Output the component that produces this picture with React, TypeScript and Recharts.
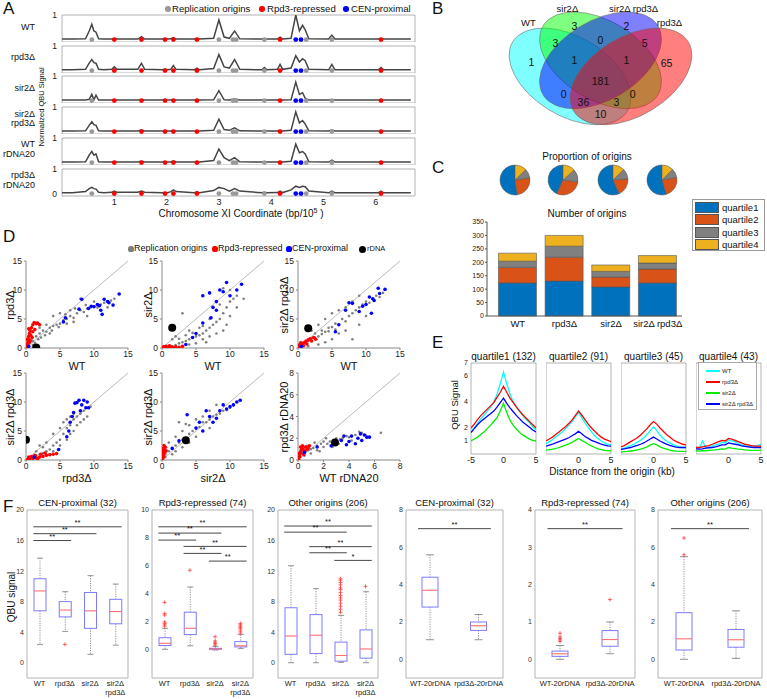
import React from 'react';
import {
  ComposedChart, LineChart, ScatterChart, PieChart, BarChart,
  Line, Scatter, Bar, Pie, Cell, XAxis, YAxis, ReferenceArea, ReferenceLine,
} from 'recharts';

const FONT = '"Liberation Sans", Arial, Helvetica, sans-serif';

// ---------------- Panel A data ----------------
const A_X = [0,0.2,0.45,0.52,0.57,0.61,0.65,0.7,0.8,0.95,1.0,1.05,1.45,1.52,1.58,1.92,1.97,2.02,2.08,2.13,2.18,2.53,2.58,2.63,2.9,3.0,3.1,3.2,3.3,3.4,3.82,3.87,3.92,4.12,4.17,4.22,4.38,4.47,4.54,4.6,4.65,4.72,5.1,5.16,5.22,6.05,6.1,6.15,6.67];
const A_WT = [0.02,0.02,0.03,0.35,0.62,0.35,0.3,0.03,0.02,0.02,0.03,0.02,0.02,0.12,0.02,0.02,0.03,0.02,0.03,0.08,0.02,0.02,0.02,0.02,0.05,0.8,0.1,0.05,0.35,0.03,0.02,0.02,0.02,0.02,0.1,0.02,0.05,1.0,0.35,0.58,0.4,0.03,0.02,0.18,0.02,0.02,0.03,0.02,0.02];
const A_RPD3 = [0.03,0.03,0.05,0.3,0.45,0.32,0.3,0.05,0.03,0.05,0.15,0.05,0.05,0.3,0.05,0.03,0.05,0.03,0.05,0.2,0.05,0.03,0.1,0.03,0.08,0.65,0.15,0.1,0.45,0.05,0.03,0.12,0.03,0.05,0.25,0.05,0.1,0.6,0.35,0.48,0.4,0.05,0.03,0.25,0.03,0.03,0.12,0.03,0.03];
const A_SIR2 = [0.02,0.02,0.02,0.05,0.25,0.03,0.22,0.02,0.02,0.02,0.02,0.02,0.02,0.02,0.02,0.02,0.02,0.02,0.02,0.02,0.02,0.02,0.02,0.02,0.03,0.4,0.03,0.02,0.06,0.02,0.02,0.02,0.02,0.02,0.02,0.02,0.03,0.75,0.25,0.32,0.1,0.02,0.02,0.02,0.02,0.02,0.02,0.02,0.02];
const A_SIR2RPD3 = [0.02,0.02,0.03,0.25,0.4,0.28,0.25,0.03,0.02,0.02,0.02,0.02,0.02,0.06,0.02,0.02,0.02,0.02,0.02,0.04,0.02,0.02,0.02,0.02,0.05,0.5,0.08,0.05,0.15,0.03,0.02,0.02,0.02,0.02,0.05,0.02,0.05,0.8,0.35,0.45,0.3,0.03,0.02,0.06,0.02,0.02,0.02,0.02,0.02];
const A_WT_R20 = [0.02,0.02,0.03,0.3,0.45,0.3,0.35,0.03,0.02,0.02,0.02,0.02,0.02,0.05,0.02,0.02,0.02,0.02,0.02,0.06,0.02,0.02,0.02,0.02,0.08,0.55,0.2,0.08,0.2,0.03,0.02,0.02,0.02,0.02,0.02,0.02,0.05,0.75,0.4,0.45,0.35,0.03,0.02,0.1,0.02,0.02,0.02,0.02,0.02];
const A_RPD3_R20 = [0.03,0.03,0.08,0.2,0.25,0.2,0.18,0.05,0.03,0.05,0.1,0.05,0.05,0.1,0.05,0.03,0.04,0.03,0.08,0.15,0.08,0.03,0.08,0.03,0.12,0.25,0.2,0.1,0.2,0.1,0.03,0.05,0.03,0.04,0.1,0.04,0.15,0.3,0.25,0.3,0.28,0.1,0.03,0.1,0.03,0.03,0.1,0.03,0.03];
const A_ROWS = [A_WT, A_RPD3, A_SIR2, A_SIR2RPD3, A_WT_R20, A_RPD3_R20];
const A_LABELS = ['WT', 'rpd3Δ', 'sir2Δ', 'sir2Δ\nrpd3Δ', 'WT\nrDNA20', 'rpd3Δ\nrDNA20'];
const A_ORI_GRAY = [0.57, 3.0, 3.27, 3.33, 3.87, 4.67, 5.16];
const A_ORI_RED = [1.0, 1.52, 1.97, 2.13, 2.58, 4.17, 6.1];
const A_ORI_BLUE = [4.47, 4.57];
const A_XTICKS = [1, 2, 3, 4, 5, 6];
const A_YTICKS = [0, 0.5, 1];

// ---------------- Panel B data ----------------
const VENN_SETS = ['WT', 'sir2Δ', 'sir2Δ rpd3Δ', 'rpd3Δ'];
const VENN_COUNTS = [1, 3, 2, 65, 3, 0, 5, 1, 1, 181, 0, 0, 36, 3, 10];

// ---------------- Panel C data ----------------
const C_STRAINS = ['WT', 'rpd3Δ', 'sir2Δ', 'sir2Δ rpd3Δ'];
const C_Q1 = [123, 130, 108, 123];
const C_Q2 = [58, 89, 37, 52];
const C_Q3 = [23, 41, 21, 22];
const C_Q4 = [30, 40, 24, 28];
const C_QNAMES = ['quartile1', 'quartile2', 'quartile3', 'quartile4'];
const C_YTICKS = [0, 50, 100, 150, 200, 250, 300, 350];

// ---------------- Panel D data ----------------
type P = [number, number];
const D1_GRAY: P[] = [[0.5,0.8],[1,0.5],[1,1.2],[1.5,2],[1.8,1.5],[2,2.5],[2,3.5],[2.2,1.8],[2.5,3],[3,2.8],[3,4],[3.5,3.5],[3.5,2.5],[4,3.8],[4,5.5],[4.5,4],[5,4.2],[5,6],[5.5,4.8],[6,5],[6,4.2],[6.5,5.5],[6.5,6.5],[7,5.2],[7,4.5],[7.5,6],[8,6.5],[8,8.5],[8.5,6.2],[9,6.8],[9,5.5],[9.5,7],[10,7.2],[10,8],[10.5,7],[11,7.5],[11,6.5],[11.5,7.8],[12,8],[12,7],[12.5,8.2],[13,8.5],[2.8,2.2],[3.8,3],[4.8,3.6],[5.8,5.8],[7.2,6.8],[8.8,7.4],[1.3,0.9],[0.8,1.4]];
const D1_BLUE: P[] = [[0.4,0.3],[5.5,4.5],[5.8,5.2],[7.8,6.7],[8.2,8.4],[9.2,6.8],[9.6,7.2],[10,7.1],[10.5,7.5],[10.8,7.3],[11,6.5],[11.2,5.8],[11.5,8.4],[12,8],[12.2,7.8],[12.8,7.4],[13.7,9.3]];
const D1_RED: P[] = [[0.1,0.1],[0.1,0.2],[0.2,0.5],[0.3,0.8],[0.3,1],[0.2,1.5],[0.4,2],[0.5,1.4],[0.5,2.5],[0.6,1.1],[0.6,3],[0.7,2.2],[0.8,3.5],[0.9,1.8],[1,2.8],[1,4],[1.2,4.4],[1.3,3.2],[1.5,4.2],[0.4,3.3],[1.7,4.3],[2,4]];
const D1_RDNA: P[] = [[1.5,0.1]];
const D2_GRAY: P[] = [[0.5,0.1],[1,0.2],[1.5,0.3],[1.5,1.5],[2,0.5],[2,0.1],[2,2],[2.5,0.8],[3,1],[3,0.3],[3,6],[3.5,1.2],[4,1.5],[4,0.6],[4,3],[4.5,1.8],[5,2],[5,0.8],[5.5,2.2],[5.5,3.5],[6,2.5],[6,1.5],[6.5,3],[6.5,1],[7,3.5],[7,2],[7,5],[7.5,4],[8,4.5],[8,2.5],[8.5,5],[8.5,7.5],[9,6],[9,3],[9,10.3],[9.5,7],[9.5,4],[10,8],[10,5.5],[10,10],[10.5,8.5],[11,9],[11,7],[12,8.5],[2.5,1.6],[3.5,2.2],[4.5,2.6],[6,3.8]];
const D2_BLUE: P[] = [[3.5,0.6],[4.5,1.8],[5,2.5],[6,4.3],[6,9],[7,9.5],[7.2,5.2],[7.5,7],[8,8],[8,6.5],[8.5,10],[9,9.7],[9.5,11.3],[10,9],[11,10],[11.7,11]];
const D2_RED: P[] = [[0.1,0],[0.2,0.2],[0.3,0.05],[0.4,0.15],[0.5,0.1],[0.6,0.3],[0.8,0.05],[1,0.1],[1.1,0.4],[1.3,0.2],[1.6,0.1],[2,0.2],[2.5,0.1],[3,0.3]];
const D2_RDNA: P[] = [[1.5,3.5]];
const D3_GRAY: P[] = [[0.5,0.3],[1,0.8],[1.5,1.2],[1.5,0.3],[2,1.6],[2,3],[2.5,2.5],[3,2],[3,4],[3,0.6],[3.5,3],[4,2.8],[4,5],[4,1],[4.5,3.5],[5,3.6],[5,6],[5,1.5],[5.5,4.2],[6,4],[6,6.5],[6,2.5],[6.5,5],[7,4.6],[7,7],[7,3],[7.5,5.5],[8,6],[8,8],[8,1.5],[8.5,6.5],[9,7],[9,9],[9,4],[9.5,7.5],[10,8],[10,5.5],[10.5,7.8],[11,8.5],[11.5,9],[12,8.8],[12.5,9.5],[2.5,1.8],[3.5,2.4],[4.5,2.9],[5.5,3.2]];
const D3_BLUE: P[] = [[0.5,0.3],[5.5,2.8],[6,4],[7,6.5],[7.5,7.8],[8,7.7],[9,6.3],[9.5,7.2],[10,7.5],[10.5,8.8],[10.8,6],[11,8.5],[11.2,8.2],[11.8,10.3],[12,9.4],[12.8,10.1]];
const D3_RED: P[] = [[0.1,0.1],[0.2,0.5],[0.3,0.3],[0.4,0.9],[0.5,0.5],[0.7,0.8],[0.8,0.4],[1,1],[1.2,1.2],[1.3,0.7],[1.5,1.4],[1.8,1.6],[2,1.2],[2.3,1.8],[2.6,1.5]];
const D3_RDNA: P[] = [[1.5,3.4]];
const D4_GRAY: P[] = [[0.5,0.3],[1,0.5],[1.5,0.8],[1.5,1.5],[2,1],[2,2.5],[2.5,1.2],[2.5,2.2],[3,1.5],[3,3],[3.5,1.8],[3.5,1],[4,2.5],[4,4.5],[4,1.5],[4.5,3],[5,3.5],[5,5.5],[5,2.5],[5.5,4.5],[5.5,6.5],[6,5.5],[6,7],[6,3.5],[6.5,6],[6.5,7.5],[6.5,4.5],[7,7],[7,8],[7,5],[7.5,7.5],[7.5,6],[8,8],[8,6.5],[8.5,8.5],[8.5,7],[9,9],[9,7.5],[9.5,9.2]];
const D4_BLUE: P[] = [[1.2,0.5],[4.8,1.8],[6,4],[6.3,5],[6.5,6.5],[6.8,7.5],[7,8.2],[7.2,9.8],[7.5,9.9],[7.8,10.3],[8,8.5],[8.2,9.5],[8.5,10.3],[8.8,9],[9,10],[9.2,9]];
const D4_RED: P[] = [[0.1,0],[0.3,0.1],[0.4,0.5],[0.5,0.2],[0.8,0.6],[1,0.3],[1.3,0.8],[1.5,0.4],[1.7,0.2],[2,0.5],[2.2,1],[2.5,0.6],[2.8,1.2],[3,0.8],[3.5,0.9],[4,1],[4.5,1.1]];
const D4_RDNA: P[] = [[0,3.5]];
const D5_GRAY: P[] = [[0.5,1],[0.5,0.5],[1,1.5],[1,3],[1.5,2],[1.5,1],[2,2.5],[2,4],[2,1.5],[2.5,3],[2.5,6.5],[3,3.5],[3,5],[3,2.2],[3.5,3.8],[3.5,6.2],[4,4.5],[4,6],[4,3],[4.5,5],[5,5.5],[5,7],[5,4],[5.5,5.7],[6,6.5],[6,7.5],[6,5],[6.5,6.5],[7,7],[7,8.5],[7,5.5],[7.5,7.5],[8,7.8],[8,9.5],[8.5,8],[9,8.5],[9,9.5],[9.5,8.6],[10,9],[10.5,9.5]];
const D5_BLUE: P[] = [[1.5,2],[2.5,3.3],[3.7,7.8],[5,5.5],[5.5,6.5],[6,5],[6.5,8.5],[7,7.5],[7.5,6.5],[8,7.2],[8.5,8.5],[9,9.5],[9.5,8.8],[10,9.2],[10.5,9.5],[11,10],[11.5,10.3]];
const D5_RED: P[] = [[0,0.1],[0.05,0.2],[0.05,0.5],[0.1,0.3],[0.1,1],[0.15,1.5],[0.2,0.8],[0.2,2],[0.25,0.6],[0.3,1.8],[0.3,2.5],[0.4,1.3],[0.5,2.2],[0.6,1.6]];
const D5_RDNA: P[] = [[3.5,3.4]];
const D6_GRAY: P[] = [[0.2,0.3],[0.3,1],[0.4,0.6],[0.5,0.4],[0.6,0.8],[0.7,1.3],[0.8,0.9],[1,1],[1,0.6],[1.2,1.1],[1.3,1.6],[1.5,1.3],[1.5,0.9],[1.7,0.8],[1.8,1.5],[2,1.7],[2,1.2],[2.2,2],[2.3,1.5],[2.5,1.7],[2.7,1.2],[2.8,1.8],[3,2],[3.2,1.5],[3.3,1.9],[3.5,2],[3.8,2.2],[4,2.1],[4.2,1.8],[4.5,2.3],[4.8,2.6],[5,2.5],[5.3,2.3],[6.5,2.5]];
const D6_BLUE: P[] = [[0.5,0.7],[1.5,1.2],[2.6,1.3],[3.4,1.8],[3.6,2.2],[3.8,1.4],[4,1.7],[4.2,2.2],[4.5,1.5],[4.7,2],[4.9,2.4],[5,1.8],[5.2,2.3],[5.4,2.1],[5.6,2.1]];
const D6_RED: P[] = [[0.05,0.1],[0.1,0.3],[0.1,0.6],[0.15,0.5],[0.2,0.7],[0.2,1.2],[0.25,0.9],[0.3,1.1],[0.35,1.3],[0.4,1],[0.45,0.5],[0.5,0.8],[0.6,1.2],[0.7,1],[0.8,1.1],[0.9,1.3]];
const D6_RDNA: P[] = [[2.9,1.6]];
const D_XLABELS = ['WT', 'WT', 'WT', 'rpd3Δ', 'sir2Δ', 'WT rDNA20'];
const D_YLABELS = ['rpd3Δ', 'sir2Δ', 'sir2Δ rpd3Δ', 'sir2Δ rpd3Δ', 'sir2Δ rpd3Δ', 'rpd3Δ rDNA20'];
const D_TICKS15 = [0, 5, 10, 15];
const D_TICKS8 = [0, 2, 4, 6, 8];

// ---------------- Panel E data ----------------
const E_X = [-5,-4.5,-4,-3.5,-3,-2.5,-2,-1.5,-1,-0.5,0,0.5,1,1.5,2,2.5,3,3.5,4,4.5,5];
const E_Q1_WT = [1.7,2.0,2.35,2.7,3.0,3.3,3.6,4.0,4.6,5.4,6.3,5.4,4.6,4.0,3.6,3.25,2.95,2.65,2.4,2.1,1.85];
const E_Q1_RPD3 = [2.0,2.3,2.65,2.95,3.2,3.45,3.7,3.95,4.35,4.75,5.2,4.75,4.3,3.95,3.6,3.3,3.0,2.75,2.5,2.25,2.0];
const E_Q1_SIR2 = [1.0,1.15,1.3,1.5,1.7,1.95,2.2,2.5,2.8,3.3,3.9,3.2,2.6,2.2,1.9,1.65,1.45,1.3,1.15,1.05,1.0];
const E_Q1_DBL = [1.65,1.95,2.25,2.5,2.7,2.9,3.1,3.3,3.6,3.95,4.3,3.9,3.55,3.25,2.95,2.7,2.45,2.25,2.05,1.85,1.7];
const E_Q2_WT = [0.8,0.95,1.1,1.3,1.5,1.7,1.95,2.2,2.5,2.85,3.2,2.8,2.4,2.05,1.7,1.4,1.2,1.0,0.85,0.75,0.7];
const E_Q2_RPD3 = [1.0,1.15,1.3,1.5,1.7,1.9,2.1,2.35,2.6,2.95,3.3,3.0,2.65,2.3,2.0,1.75,1.5,1.3,1.15,1.05,0.95];
const E_Q2_SIR2 = [0.3,0.33,0.37,0.42,0.5,0.58,0.68,0.78,0.9,1.05,1.2,1.05,0.9,0.75,0.62,0.5,0.4,0.33,0.28,0.26,0.25];
const E_Q2_DBL = [0.6,0.68,0.75,0.85,0.95,1.05,1.15,1.25,1.4,1.55,1.75,1.55,1.35,1.2,1.05,0.95,0.85,0.75,0.68,0.62,0.6];
const E_Q3_WT = [0.4,0.45,0.55,0.65,0.75,0.9,1.05,1.25,1.5,1.8,2.1,1.8,1.45,1.2,1.0,0.85,0.72,0.62,0.55,0.5,0.5];
const E_Q3_RPD3 = [0.55,0.65,0.8,0.95,1.1,1.25,1.45,1.7,1.95,2.25,2.5,2.3,2.0,1.75,1.5,1.3,1.1,0.95,0.85,0.75,0.7];
const E_Q3_SIR2 = [0.15,0.18,0.2,0.23,0.27,0.32,0.38,0.45,0.55,0.68,0.8,0.7,0.55,0.45,0.37,0.3,0.25,0.22,0.2,0.2,0.2];
const E_Q3_DBL = [0.35,0.4,0.45,0.5,0.58,0.66,0.75,0.85,1.0,1.15,1.3,1.15,1.0,0.88,0.76,0.66,0.58,0.53,0.5,0.5,0.5];
const E_Q4_WT = [0.5,0.45,1.0,0.45,0.55,0.6,0.7,0.75,0.9,0.85,1.1,1.0,0.95,0.8,0.7,0.65,0.6,0.6,0.6,0.65,0.75];
const E_Q4_RPD3 = [0.5,0.5,0.55,0.6,0.65,0.75,0.85,0.95,1.05,1.0,1.2,1.15,1.05,0.95,0.85,0.75,0.7,0.65,0.6,0.6,0.6];
const E_Q4_SIR2 = [0.25,0.22,0.25,0.25,0.28,0.3,0.32,0.35,0.4,0.38,0.5,0.45,0.42,0.38,0.35,0.32,0.3,0.28,0.28,0.28,0.3];
const E_Q4_DBL = [0.4,0.38,0.4,0.45,0.48,0.5,0.55,0.62,0.7,0.7,0.85,0.8,0.75,0.7,0.62,0.58,0.55,0.52,0.5,0.5,0.5];
const E_TITLES = ['quartile1 (132)', 'quartile2 (91)', 'quartile3 (45)', 'quartile4 (43)'];
const E_SERIES = ['WT', 'rpd3Δ', 'sir2Δ', 'sir2Δ rpd3Δ'];
const E_XTICKS = [-5, 0, 5];
const E_YTICKS = [0, 1, 2, 3, 4, 5, 6, 7];

// ---------------- Panel F data ----------------
const F_CATS = ['WT', 'rpd3Δ', 'sir2Δ', 'sir2Δ rpd3Δ'];
const F_TICKLABELS = ['WT', 'rpd3Δ', 'sir2Δ', 'sir2Δ\nrpd3Δ'];
const F_CATS20 = ['WT-20rDNA', 'rpd3Δ-20rDNA'];
// [low whisker, q1, median, q3, high whisker]
const F_CEN_BOX = [[2.4,6.8,9.4,11.0,13.7],[4.1,6.0,6.9,8.0,9.3],[1.1,4.5,6.8,9.2,11.4],[2.3,5.1,6.7,8.3,10.3]];
const F_CEN_OUT = [[], [2.4], [], []];
const F_CEN_SIG: [string, string, number, string][] = [['WT','rpd3Δ',16.0,'**'],['WT','sir2Δ',16.9,'**'],['WT','sir2Δ rpd3Δ',17.8,'**']];
const F_RPD_BOX = [[0.05,0.32,0.48,0.88,1.55],[0.3,1.1,1.55,2.7,4.5],[0,0.05,0.08,0.12,0.25],[0.1,0.22,0.3,0.6,1.1]];
const F_RPD_OUT = [[1.7,1.8,1.9,2.0,2.5,2.6,3.4],[5.7],[0.35,0.45,0.55,0.65,0.95],[1.2,1.35,1.5,1.6,1.7,1.8,1.9]];
const F_RPD_SIG: [string, string, number, string][] = [['WT','sir2Δ rpd3Δ',8.8,'**'],['WT','sir2Δ',8.35,'**'],['WT','rpd3Δ',7.85,'**'],['rpd3Δ','sir2Δ rpd3Δ',7.4,'**'],['rpd3Δ','sir2Δ',6.9,'**'],['sir2Δ','sir2Δ rpd3Δ',6.35,'**']];
const F_OTH_BOX = [[0,1.1,3.5,7.2,12.7],[0,1.2,3.6,6.3,9.7],[0.05,0.2,0.95,2.7,6.2],[0,0.6,1.8,4.3,9.3]];
const F_OTH_OUT = [[], [], [6.6,7.0,7.4,7.8,8.2,8.5,8.8,9.2,9.6,9.8,10.2,10.5,10.8,11.0], [10.0]];
const F_OTH_SIG: [string, string, number, string][] = [['WT','sir2Δ rpd3Δ',17.9,'**'],['WT','sir2Δ',17.1,'**'],['rpd3Δ','sir2Δ rpd3Δ',15.2,'**'],['rpd3Δ','sir2Δ',14.4,'**'],['sir2Δ','sir2Δ rpd3Δ',13.4,'*']];
const F_CEN20_BOX = [[1.05,2.8,3.7,4.4,5.6],[1.05,1.55,1.8,2.0,2.4]];
const F_CEN20_OUT = [[], []];
const F_CEN20_SIG: [string, string, number, string][] = [['WT-20rDNA','rpd3Δ-20rDNA',7.0,'**']];
const F_RPD20_BOX = [[0,0.08,0.15,0.22,0.37],[0.15,0.35,0.53,0.77,1.0]];
const F_RPD20_OUT = [[0.48,0.52,0.56,0.6,0.7],[1.6]];
const F_RPD20_SIG: [string, string, number, string][] = [['WT-20rDNA','rpd3Δ-20rDNA',3.5,'**']];
const F_OTH20_BOX = [[0,0.5,1.1,2.5,5.5],[0.05,0.65,1.05,1.6,2.6]];
const F_OTH20_OUT = [[5.6,6.5],[]];
const F_OTH20_SIG: [string, string, number, string][] = [['WT-20rDNA','rpd3Δ-20rDNA',7.0,'**']];
const F_TITLES = ['CEN-proximal (32)', 'Rpd3-repressed (74)', 'Other origins (206)', 'CEN-proximal (32)', 'Rpd3-repressed (74)', 'Other origins (206)'];

// ---------------- styles / layout ----------------
const C_COLORS = ['#0072bd', '#d95319', '#808080', '#edb120'];
const E_COLORS = ['#00ffff', '#ff0000', '#00ee00', '#0000ff'];
const VENN_COLORS = ['#00ffff', '#00ff00', '#0000ff', '#ff0000'];
const VENN_ELLIPSES = [
  { x: 0.35, y: 0.47, rot: 45 },
  { x: 0.5, y: 0.57, rot: 45 },
  { x: 0.5, y: 0.57, rot: -45 },
  { x: 0.65, y: 0.47, rot: -45 },
];
const VENN_REGION_POS = [
  [0.16,0.559],[0.372,0.783],[0.628,0.783],[0.825,0.553],[0.278,0.677],[0.5,0.696],[0.717,0.677],
  [0.372,0.571],[0.628,0.571],[0.5,0.441],[0.318,0.36],[0.658,0.36],[0.416,0.311],[0.579,0.311],[0.5,0.236],
];
const VENN_LABEL_POS = [[0.145,0.807],[0.337,0.894],[0.663,0.894],[0.84,0.807]];
const VENN_SX = 203, VENN_SY = 161;

function Txt({ x, y, size = 10, anchor = 'middle', rotate = false, color = '#111', children }: any) {
  const tx = anchor === 'middle' ? '-50%' : anchor === 'end' ? '-100%' : '0%';
  return (
    <div style={{
      position: 'absolute', left: x, top: y,
      transform: `translate(${tx}, -50%)${rotate ? ' rotate(-90deg)' : ''}`,
      fontSize: size, lineHeight: 1.1, whiteSpace: 'pre', color,
      textAlign: anchor === 'end' ? 'right' : anchor === 'middle' ? 'center' : 'left',
    }}>{children}</div>
  );
}
function Dot({ x, y, r, color }: any) {
  return <div style={{ position: 'absolute', left: x - r, top: y - r, width: 2 * r, height: 2 * r, borderRadius: '50%', background: color }} />;
}
const circleShape = (r: number, fill: string) => (p: any) =>
  p.cx == null ? null : <circle cx={p.cx} cy={p.cy} r={r} fill={fill} />;

// ---------------- Panel A ----------------
const A_X0 = 62, A_W = 353, A_TOP = 15, A_STEP = 30.7, A_H = 27;
function SignalRow({ i }: any) {
  const top = A_TOP + i * A_STEP;
  const last = i === 5;
  const mt = 6, yW = 30, xH = last ? 14 : 0;
  const data = A_X.map((x, k) => ({ x, y: A_ROWS[i][k] }));
  const g = A_ORI_GRAY.map((x) => ({ x, y: 0 }));
  const r = A_ORI_RED.map((x) => ({ x, y: 0 }));
  const b = A_ORI_BLUE.map((x) => ({ x, y: 0 }));
  return (
    <div style={{ position: 'absolute', left: A_X0 - yW, top: top - mt }}>
      <ComposedChart width={yW + A_W + 5} height={mt + A_H + xH} data={data} margin={{ top: mt, right: 5, bottom: 0, left: 0 }}>
        <XAxis type="number" dataKey="x" domain={[0, 6.75]} ticks={A_XTICKS} hide={!last} height={xH}
          axisLine={false} tickLine={false} tickSize={0} tickMargin={3} tick={{ fontSize: 9, fill: '#222' }} allowDataOverflow />
        <YAxis type="number" domain={[-0.1, 1]} ticks={A_YTICKS} width={yW} axisLine={false} tickLine={false}
          tickSize={0} tickMargin={5} tick={{ fontSize: 8.5, fill: '#222' }} allowDataOverflow />
        <ReferenceArea x1={0} x2={6.75} y1={-0.1} y2={1} fill="none" stroke="#a0a0a0" strokeWidth={0.8} />
        <Line dataKey="y" stroke="#454545" strokeWidth={1.5} dot={false} isAnimationActive={false} />
        <Scatter data={g} dataKey="y" shape={circleShape(2.4, '#999999')} isAnimationActive={false} />
        <Scatter data={r} dataKey="y" shape={circleShape(2.4, '#ff0000')} isAnimationActive={false} />
        <Scatter data={b} dataKey="y" shape={circleShape(2.4, '#0000ff')} isAnimationActive={false} />
      </ComposedChart>
    </div>
  );
}

// ---------------- Panel B ----------------
function Venn() {
  const ell = VENN_ELLIPSES.map((e, i) => ({ ...e, color: VENN_COLORS[i] }));
  const regions = VENN_REGION_POS.map((p, i) => ({ x: p[0], y: p[1], n: VENN_COUNTS[i] }));
  const labels = VENN_LABEL_POS.map((p, i) => ({ x: p[0], y: p[1], t: VENN_SETS[i] }));
  const EllShape = (p: any) => (
    <ellipse cx={0} cy={0} rx={0.36} ry={0.225}
      transform={`translate(${p.cx},${p.cy}) scale(${VENN_SX},${VENN_SY}) rotate(${p.payload.rot})`}
      fill={p.payload.color} fillOpacity={0.5} stroke="#6a6a6a" strokeWidth={0.6} vectorEffect="non-scaling-stroke" />
  );
  const NumShape = (p: any) => (
    <text x={p.cx} y={p.cy} textAnchor="middle" dominantBaseline="central" fontSize={10.5} fill="#111">{p.payload.n}</text>
  );
  const LabShape = (p: any) => (
    <text x={p.cx} y={p.cy} textAnchor="middle" dominantBaseline="central" fontSize={9.5} fill="#111">{p.payload.t}</text>
  );
  return (
    <div style={{ position: 'absolute', left: 498.5, top: -2.1 }}>
      <ScatterChart width={203} height={152} margin={{ top: 6, right: 0, bottom: 6, left: 0 }}>
        <XAxis type="number" dataKey="x" domain={[0, 1]} hide allowDataOverflow />
        <YAxis type="number" dataKey="y" domain={[0.05, 0.92]} hide allowDataOverflow />
        <Scatter data={ell} shape={EllShape} isAnimationActive={false} />
        <Scatter data={regions} shape={NumShape} isAnimationActive={false} />
        <Scatter data={labels} shape={LabShape} isAnimationActive={false} />
      </ScatterChart>
    </div>
  );
}

// ---------------- Panel C ----------------
const C_QS = [C_Q1, C_Q2, C_Q3, C_Q4];
function Pies() {
  const cxs = [20, 68, 118, 167];
  return (
    <div style={{ position: 'absolute', left: 495, top: 162 }}>
      <PieChart width={190} height={36} margin={{ top: 0, right: 0, bottom: 0, left: 0 }}>
        {C_STRAINS.map((s, i) => (
          <Pie key={s} data={C_QNAMES.map((q, k) => ({ name: q, value: C_QS[k][i] }))} dataKey="value"
            cx={cxs[i]} cy={18} outerRadius={15} startAngle={90} endAngle={450}
            stroke="#555" strokeWidth={0.5} isAnimationActive={false}>
            {C_COLORS.map((c, k) => <Cell key={k} fill={c} />)}
          </Pie>
        ))}
      </PieChart>
    </div>
  );
}
function Bars() {
  const data = C_STRAINS.map((s, i) => ({ x: i + 1, q1: C_Q1[i], q2: C_Q2[i], q3: C_Q3[i], q4: C_Q4[i] }));
  const px = 487, py = 222, w = 195, h = 94, yW = 24, mt = 6, mr = 6, xH = 18;
  return (
    <div style={{ position: 'absolute', left: px - yW, top: py - mt }}>
      <BarChart width={yW + w + mr} height={mt + h + xH} data={data} margin={{ top: mt, right: mr, bottom: 0, left: 0 }}>
        <XAxis type="number" dataKey="x" domain={[0.34, 4.52]} ticks={[1, 2, 3, 4]} tickFormatter={(v: number) => C_STRAINS[Math.round(v) - 1]}
          height={xH} axisLine={{ stroke: '#555' }} tickLine={false} tickSize={0} tickMargin={4} tick={{ fontSize: 9.5, fill: '#111' }} allowDataOverflow />
        <YAxis type="number" domain={[0, 350]} ticks={C_YTICKS} width={yW} axisLine={{ stroke: '#555' }} tickLine={{ stroke: '#555' }}
          tickSize={2} tickMargin={1} tick={{ fontSize: 7, fill: '#222' }} />
        {['q1', 'q2', 'q3', 'q4'].map((k, i) => (
          <Bar key={k} dataKey={k} stackId="a" fill={C_COLORS[i]} stroke="#555" strokeWidth={0.6} barSize={38} isAnimationActive={false} />
        ))}
      </BarChart>
    </div>
  );
}
function CLegend() {
  return (
    <div style={{ position: 'absolute', left: 692, top: 199, width: 73, height: 52, border: '1px solid #999', background: '#fff', boxSizing: 'border-box' }}>
      {C_QNAMES.map((q, i) => (
        <div key={q} style={{ position: 'absolute', left: 2, top: 2 + i * 12.6, height: 10, display: 'flex', alignItems: 'center' }}>
          <div style={{ width: 22, height: 9, background: C_COLORS[i], border: '0.5px solid #555' }} />
          <span style={{ fontSize: 9.5, marginLeft: 3, color: '#111' }}>{q}</span>
        </div>
      ))}
    </div>
  );
}

// ---------------- Panel D ----------------
const D_SETS = [
  [D1_GRAY, D1_RED, D1_BLUE, D1_RDNA], [D2_GRAY, D2_RED, D2_BLUE, D2_RDNA], [D3_GRAY, D3_RED, D3_BLUE, D3_RDNA],
  [D4_GRAY, D4_RED, D4_BLUE, D4_RDNA], [D5_GRAY, D5_RED, D5_BLUE, D5_RDNA], [D6_GRAY, D6_RED, D6_BLUE, D6_RDNA],
];
const D_PX = [26, 162, 298], D_PY = [261, 373], D_W = 102, D_H = 87;
function DPlot({ k }: any) {
  const r = Math.floor(k / 3), c = k % 3;
  const px = D_PX[c], py = D_PY[r];
  const max = k === 5 ? 8 : 15;
  const ticks = k === 5 ? D_TICKS8 : D_TICKS15;
  const [g, rd, bl, bk] = D_SETS[k].map((arr) => arr.map(([x, y]) => ({ x, y })));
  const yW = 22, mt = 6, mr = 8, xH = 13;
  const ax = { stroke: '#888' };
  return (
    <div style={{ position: 'absolute', left: px - yW, top: py - mt }}>
      <ScatterChart width={yW + D_W + mr} height={mt + D_H + xH} margin={{ top: mt, right: mr, bottom: 0, left: 0 }}>
        <XAxis type="number" dataKey="x" domain={[0, max]} ticks={ticks} height={xH} axisLine={ax} tickLine={ax}
          tickSize={2} tickMargin={1} tick={{ fontSize: 8.5, fill: '#222' }} allowDataOverflow />
        <YAxis type="number" dataKey="y" domain={[0, max]} ticks={ticks} width={yW} axisLine={ax} tickLine={ax}
          tickSize={2} tickMargin={2} tick={{ fontSize: 8.5, fill: '#222' }} allowDataOverflow />
        <ReferenceLine segment={[{ x: 0, y: 0 }, { x: max, y: max }]} stroke="#aaaaaa" strokeWidth={0.8} />
        <Scatter data={g} shape={circleShape(1.3, '#7f7f7f')} isAnimationActive={false} />
        <Scatter data={rd} shape={circleShape(1.8, '#ff0000')} isAnimationActive={false} />
        <Scatter data={bl} shape={circleShape(1.8, '#0000ff')} isAnimationActive={false} />
        <Scatter data={bk} shape={circleShape(4, '#000000')} isAnimationActive={false} />
      </ScatterChart>
    </div>
  );
}

// ---------------- Panel E ----------------
const E_DATA = [
  [E_Q1_WT, E_Q1_RPD3, E_Q1_SIR2, E_Q1_DBL], [E_Q2_WT, E_Q2_RPD3, E_Q2_SIR2, E_Q2_DBL],
  [E_Q3_WT, E_Q3_RPD3, E_Q3_SIR2, E_Q3_DBL], [E_Q4_WT, E_Q4_RPD3, E_Q4_SIR2, E_Q4_DBL],
];
const E_PX = [471, 546, 621, 696], E_PY = 363, E_W = 65, E_H = 91;
function EPlot({ k }: any) {
  const px = E_PX[k];
  const mt = 6, yW = k === 0 ? 14 : 0, xH = 14, mr = 6;
  const data = E_X.map((x, i) => ({ x, wt: E_DATA[k][0][i], rpd3: E_DATA[k][1][i], sir2: E_DATA[k][2][i], dbl: E_DATA[k][3][i] }));
  const order: [string, number][] = [['wt', 0], ['sir2', 2], ['dbl', 3], ['rpd3', 1]];
  return (
    <div style={{ position: 'absolute', left: px - yW, top: E_PY - mt }}>
      <LineChart width={yW + E_W + mr} height={mt + E_H + xH} data={data} margin={{ top: mt, right: mr, bottom: 0, left: 0 }}>
        <XAxis type="number" dataKey="x" domain={[-5, 5]} ticks={E_XTICKS} height={xH} axisLine={false} tickLine={false}
          tickSize={0} tickMargin={3} tick={{ fontSize: 9, fill: '#222' }} allowDataOverflow />
        <YAxis type="number" domain={[0, 7]} ticks={E_YTICKS} width={yW} hide={k !== 0} axisLine={false} tickLine={false}
          tickSize={0} tickMargin={3} tick={{ fontSize: 7, fill: '#222' }} allowDataOverflow />
        <ReferenceArea x1={-5} x2={5} y1={0} y2={7} fill="none" stroke="#a0a0a0" strokeWidth={0.8} />
        {order.map(([key, ci]) => (
          <Line key={key} dataKey={key} name={E_SERIES[ci]} stroke={E_COLORS[ci]} strokeWidth={1.3} dot={false} isAnimationActive={false} />
        ))}
      </LineChart>
    </div>
  );
}
function ELegend() {
  return (
    <div style={{ position: 'absolute', left: 698, top: 362, width: 59, height: 48, border: '1px solid #aaa', background: '#fff', boxSizing: 'border-box' }}>
      {E_SERIES.map((s, i) => (
        <div key={s} style={{ position: 'absolute', left: 7, top: 4 + i * 11, height: 8, display: 'flex', alignItems: 'center' }}>
          <div style={{ width: 14, height: 1.3, background: E_COLORS[i] }} />
          <span style={{ fontSize: 6, marginLeft: 2, color: '#222' }}>{s}</span>
        </div>
      ))}
    </div>
  );
}

// ---------------- Panel F ----------------
const BoxShape = (props: any) => {
  const { x, y, width, height, payload } = props;
  if (x == null || !payload) return null;
  const top = Math.min(y, y + height), bot = Math.max(y, y + height);
  const span = payload.high - payload.low;
  const py = (v: number) => (span === 0 ? bot : bot - ((v - payload.low) / span) * (bot - top));
  const cx = x + width / 2;
  const cap = width * 0.5;
  return (
    <g>
      <line x1={cx} x2={cx} y1={py(payload.high)} y2={py(payload.q3)} stroke="#666" strokeWidth={0.7} strokeDasharray="1.2 1.2" />
      <line x1={cx} x2={cx} y1={py(payload.q1)} y2={py(payload.low)} stroke="#666" strokeWidth={0.7} strokeDasharray="1.2 1.2" />
      <line x1={cx - cap / 2} x2={cx + cap / 2} y1={py(payload.high)} y2={py(payload.high)} stroke="#777" strokeWidth={0.8} />
      <line x1={cx - cap / 2} x2={cx + cap / 2} y1={py(payload.low)} y2={py(payload.low)} stroke="#777" strokeWidth={0.8} />
      <rect x={x} y={py(payload.q3)} width={width} height={Math.max(0.5, py(payload.q1) - py(payload.q3))} fill="none" stroke="#7b7bff" strokeWidth={1} />
      <line x1={x} x2={x + width} y1={py(payload.med)} y2={py(payload.med)} stroke="#ff7070" strokeWidth={1.1} />
    </g>
  );
};
const PlusShape = (p: any) => p.cx == null ? null : (
  <g stroke="#ff4040" strokeWidth={0.8}>
    <line x1={p.cx - 2} x2={p.cx + 2} y1={p.cy} y2={p.cy} />
    <line x1={p.cx} x2={p.cx} y1={p.cy - 2} y2={p.cy + 2} />
  </g>
);
const sigShape = (label: string) => (p: any) => (
  <g>
    <line x1={p.x1} x2={p.x2} y1={p.y1} y2={p.y2} stroke="#333" strokeWidth={0.9} />
    <text x={(p.x1 + p.x2) / 2} y={p.y1 - 1.8} textAnchor="middle" fontSize={7.5} fill="#111">{label}</text>
  </g>
);
const F_SPECS = [
  { px: 27, w: 101, dom: [-2, 20], ticks: [0, 4, 8, 12, 16, 20], cats: F_CATS, labels: F_TICKLABELS, box: F_CEN_BOX, out: F_CEN_OUT, sig: F_CEN_SIG, bw: 12 },
  { px: 152, w: 101, dom: [-2, 10], ticks: [0, 2, 4, 6, 8, 10], cats: F_CATS, labels: F_TICKLABELS, box: F_RPD_BOX, out: F_RPD_OUT, sig: F_RPD_SIG, bw: 12 },
  { px: 278, w: 100, dom: [-2, 20], ticks: [0, 4, 8, 12, 16, 20], cats: F_CATS, labels: F_TICKLABELS, box: F_OTH_BOX, out: F_OTH_OUT, sig: F_OTH_SIG, bw: 12 },
  { px: 406, w: 97, dom: [-1, 8], ticks: [0, 2, 4, 6, 8], cats: F_CATS20, labels: F_CATS20, box: F_CEN20_BOX, out: F_CEN20_OUT, sig: F_CEN20_SIG, bw: 16 },
  { px: 535, w: 100, dom: [-0.5, 4], ticks: [0, 1, 2, 3, 4], cats: F_CATS20, labels: F_CATS20, box: F_RPD20_BOX, out: F_RPD20_OUT, sig: F_RPD20_SIG, bw: 16 },
  { px: 658, w: 104, dom: [-1, 8], ticks: [0, 2, 4, 6, 8], cats: F_CATS20, labels: F_CATS20, box: F_OTH20_BOX, out: F_OTH20_OUT, sig: F_OTH20_SIG, bw: 16 },
];
const F_PY = 510, F_H = 168;
function FPlot({ k }: any) {
  const s = F_SPECS[k];
  const n = s.cats.length;
  const data = s.cats.map((name, i) => ({
    x: i + 1, name, low: s.box[i][0], q1: s.box[i][1], med: s.box[i][2], q3: s.box[i][3], high: s.box[i][4],
    range: [s.box[i][0], s.box[i][4]],
  }));
  const outs = s.out.flatMap((arr, i) => arr.map((v) => ({ x: i + 1, v })));
  const yW = 20, mt = 6, mr = 3, xH = 26;
  const Tick = (p: any) => {
    const lines = s.labels[Math.round(p.payload.value) - 1].split('\n');
    return (
      <text x={p.x} y={p.y} textAnchor="middle" fontSize={7.5} fill="#222">
        {lines.map((l: string, i: number) => <tspan key={i} x={p.x} dy={i === 0 ? 8 : 9}>{l}</tspan>)}
      </text>
    );
  };
  return (
    <div style={{ position: 'absolute', left: s.px - yW, top: F_PY - mt }}>
      <ComposedChart width={yW + s.w + mr} height={mt + F_H + xH} data={data} margin={{ top: mt, right: mr, bottom: 0, left: 0 }}>
        <XAxis type="number" dataKey="x" domain={[0.5, n + 0.5]} ticks={data.map((d) => d.x)} tick={Tick} height={xH}
          axisLine={false} tickLine={false} tickSize={0} tickMargin={0} interval={0} allowDataOverflow />
        <YAxis type="number" domain={s.dom} ticks={s.ticks} width={yW} axisLine={false} tickLine={false}
          tickSize={0} tickMargin={3} tick={{ fontSize: 7, fill: '#333' }} allowDataOverflow />
        <ReferenceArea x1={0.5} x2={n + 0.5} y1={s.dom[0]} y2={s.dom[1]} fill="none" stroke="#aaaaaa" strokeWidth={0.9} />
        <Bar dataKey="range" barSize={s.bw} shape={BoxShape} isAnimationActive={false} />
        <Scatter data={outs} dataKey="v" shape={PlusShape} isAnimationActive={false} />
        {s.sig.map((g, i) => {
          const a = s.cats.indexOf(g[0]) + 1, b = s.cats.indexOf(g[1]) + 1;
          return <ReferenceLine key={i} segment={[{ x: a - 0.25, y: g[2] }, { x: b + 0.25, y: g[2] }]} shape={sigShape(g[3])} />;
        })}
      </ComposedChart>
    </div>
  );
}

export default function App() {
  const letter = 17;
  return (
    <div style={{ position: 'absolute', left: 0, top: 0, width: 767, height: 699, background: '#fff', fontFamily: FONT, overflow: 'hidden', color: '#111' }}>
      {/* Panel A */}
      <Txt x={3} y={9} size={letter} anchor="start">A</Txt>
      <Dot x={168} y={9} r={2.8} color="#999" />
      <Txt x={172} y={9} size={9.6} anchor="start">Replication origins</Txt>
      <Dot x={262} y={9} r={2.8} color="#ff0000" />
      <Txt x={267} y={9} size={9.6} anchor="start">Rpd3-repressed</Txt>
      <Dot x={346} y={9} r={2.8} color="#0000ff" />
      <Txt x={351} y={9} size={9.6} anchor="start">CEN-proximal</Txt>
      {A_ROWS.map((_, i) => <SignalRow key={i} i={i} />)}
      {A_LABELS.map((l, i) => <Txt key={i} x={35} y={A_TOP + i * A_STEP + 12.5} size={9} anchor="end">{l}</Txt>)}
      <Txt x={42} y={107} size={7.5} rotate>Normalized QBU Signal</Txt>
      <Txt x={241} y={213} size={10}>Chromosome XI Coordinate (bp/10<sup style={{ fontSize: 7 }}>5</sup> )</Txt>

      {/* Panel B */}
      <Txt x={432} y={9} size={letter} anchor="start">B</Txt>
      <Venn />

      {/* Panel C */}
      <Txt x={432} y={168} size={letter} anchor="start">C</Txt>
      <Txt x={587} y={156} size={10}>Proportion of origins</Txt>
      <Pies />
      <Txt x={587} y={213} size={10}>Number of origins</Txt>
      <Bars />
      <CLegend />

      {/* Panel D */}
      <Txt x={3} y={237} size={letter} anchor="start">D</Txt>
      <Dot x={131} y={249} r={2.6} color="#7f7f7f" />
      <Txt x={134} y={249} size={9} anchor="start">Replication origins</Txt>
      <Dot x={215} y={249} r={2.6} color="#ff0000" />
      <Txt x={218} y={249} size={9} anchor="start">Rpd3-repressed</Txt>
      <Dot x={289} y={249} r={2.6} color="#0000ff" />
      <Txt x={292} y={249} size={9} anchor="start">CEN-proximal</Txt>
      <Dot x={362} y={249} r={3.5} color="#000" />
      <Txt x={367} y={249} size={7.5} anchor="start">rDNA</Txt>
      {[0, 1, 2, 3, 4, 5].map((k) => <DPlot key={k} k={k} />)}
      {D_XLABELS.map((l, k) => (
        <Txt key={'dx' + k} x={D_PX[k % 3] + D_W / 2} y={k < 3 ? 366 : 478} size={11}>{l}</Txt>
      ))}
      {D_YLABELS.map((l, k) => (
        <Txt key={'dy' + k} x={[10, 148, 284][k % 3]} y={(k < 3 ? D_PY[0] : D_PY[1]) + D_H / 2} size={11} rotate>{l}</Txt>
      ))}

      {/* Panel E */}
      <Txt x={432} y={343} size={letter} anchor="start">E</Txt>
      {E_TITLES.map((t, k) => <Txt key={t} x={E_PX[k] + 32.5} y={356} size={10}>{t}</Txt>)}
      {[0, 1, 2, 3].map((k) => <EPlot key={k} k={k} />)}
      <ELegend />
      <Txt x={455} y={405} size={9.5} rotate>QBU Signal</Txt>
      <Txt x={612} y={471} size={10}>Distance from the origin (kb)</Txt>

      {/* Panel F */}
      <Txt x={3} y={507} size={letter} anchor="start">F</Txt>
      {F_TITLES.map((t, k) => <Txt key={'ft' + k} x={F_SPECS[k].px + F_SPECS[k].w / 2} y={503} size={9.5}>{t}</Txt>)}
      {[0, 1, 2, 3, 4, 5].map((k) => <FPlot key={k} k={k} />)}
      <Txt x={11} y={597} size={10} rotate>QBU signal</Txt>
    </div>
  );
}
